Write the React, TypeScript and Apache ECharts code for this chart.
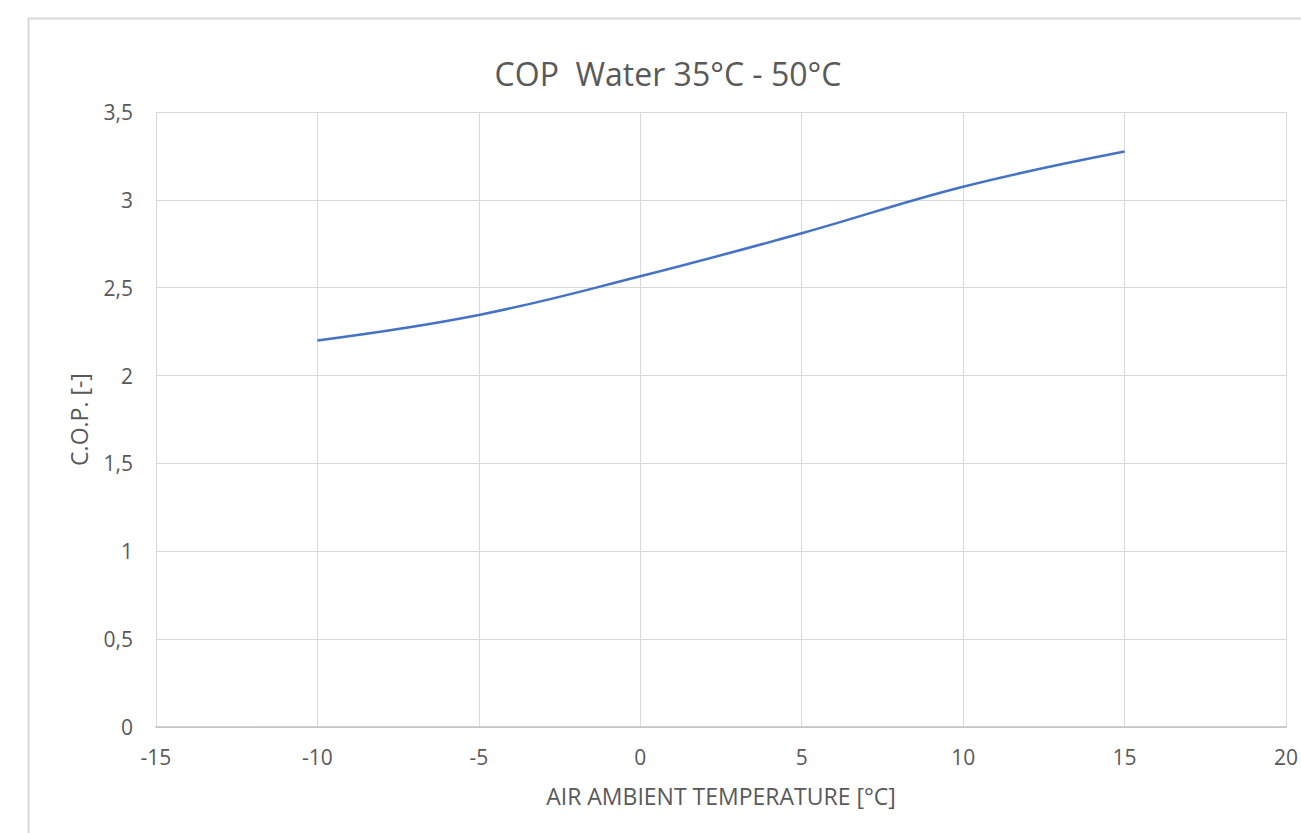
import React, { useEffect, useRef } from "react";
import * as echarts from "echarts";

const temperatures = [-10, -5, 0, 5, 10, 15];
const copValues = [2.2, 2.345, 2.565, 2.81, 3.075, 3.275];
const titleText = "COP  Water 35°C - 50°C";
const xAxisName = "AIR AMBIENT TEMPERATURE [°C]";
const yAxisName = "C.O.P. [-]";

export default function App() {
  const ref = useRef<HTMLDivElement>(null);
  useEffect(() => {
    if (!ref.current) return;
    const chart = echarts.init(ref.current, undefined, { renderer: "svg" });
    const font = "'Open Sans', 'Noto Sans', sans-serif";
    chart.setOption({
      animation: false,
      backgroundColor: "#ffffff",
      title: {
        text: titleText,
        left: 663,
        textAlign: "center",
        top: 52,
        textStyle: { fontFamily: font, fontSize: 32, fontWeight: "normal", color: "#595959" },
      },
      graphic: [
        {
          type: "rect",
          shape: { x: 28.5, y: 18.5, width: 1320, height: 850 },
          style: { fill: "none", stroke: "#d9d9d9", lineWidth: 2 },
          silent: true,
        },
      ],
      grid: { left: 156, right: 13, top: 112, bottom: 106 },
      xAxis: {
        type: "value",
        min: -15,
        max: 20,
        interval: 5,
        name: xAxisName,
        nameLocation: "middle",
        nameGap: 57,
        nameTextStyle: { fontFamily: font, fontSize: 23, color: "#595959" },
        axisLine: { show: true, lineStyle: { color: "#bfbfbf", width: 1.5 } },
        axisTick: { show: false },
        axisLabel: { fontFamily: font, fontSize: 21, color: "#595959", margin: 19 },
        splitLine: { show: true, lineStyle: { color: "#d9d9d9", width: 1 } },
      },
      yAxis: {
        type: "value",
        min: 0,
        max: 3.5,
        interval: 0.5,
        name: yAxisName,
        nameLocation: "middle",
        nameGap: 66,
        nameRotate: 90,
        nameTextStyle: { fontFamily: font, fontSize: 23, color: "#595959" },
        axisLine: { show: false },
        axisTick: { show: false },
        axisLabel: {
          fontFamily: font,
          fontSize: 21,
          color: "#595959",
          margin: 23,
          formatter: (v: number) => String(v).replace(".", ","),
        },
        splitLine: { show: true, lineStyle: { color: "#d9d9d9", width: 1 } },
      },
      series: [
        {
          type: "line",
          data: temperatures.map((t, i) => [t, copValues[i]]),
          smooth: 0.4,
          showSymbol: false,
          lineStyle: { color: "#4472C4", width: 2.5 },
        },
      ],
    });
    return () => chart.dispose();
  }, []);
  return (
    <div
      ref={ref}
      style={{ position: "fixed", left: 0, top: 0, width: 1301, height: 833 }}
    />
  );
}
